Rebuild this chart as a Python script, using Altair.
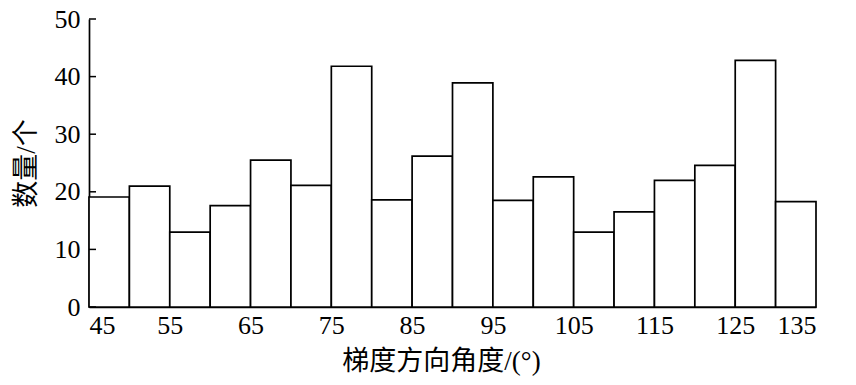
import altair as alt
import pandas as pd

bin_starts = [45, 50, 55, 60, 65, 70, 75, 80, 85, 90, 95, 100, 105, 110, 115, 120, 125, 130]
counts = [19.1, 21.0, 13.0, 17.6, 25.5, 21.1, 41.8, 18.6, 26.2, 38.9, 18.5, 22.6, 13.0, 16.5, 22.0, 24.6, 42.8, 18.3]
bin_width = 5
x_ticks = [45, 55, 65, 75, 85, 95, 105, 115, 125, 135]
y_ticks = [0, 10, 20, 30, 40, 50]

df = pd.DataFrame({
    "start": bin_starts,
    "end": [s + bin_width for s in bin_starts],
    "count": counts,
})
tick_df = pd.DataFrame({"y": y_ticks})

FONT = "Liberation Serif, Times New Roman, Noto Sans CJK SC"

x_scale = alt.Scale(domain=[45, 135], nice=False, zero=False)
y_scale = alt.Scale(domain=[0, 50], nice=False)

bars = alt.Chart(df).mark_rect(
    fill="white", stroke="black", strokeWidth=1.7
).encode(
    x=alt.X("start:Q", scale=x_scale,
            axis=alt.Axis(values=x_ticks, title="梯度方向角度/(°)", tickSize=0,
                          labelPadding=5, titlePadding=10, titleX=352,
                          titleAlign="center", grid=False)),
    x2="end:Q",
    y=alt.Y("count:Q", scale=y_scale,
            axis=alt.Axis(values=y_ticks, title="数量/个", tickSize=0,
                          labelPadding=9, titlePadding=14, grid=False)),
    y2=alt.datum(0),
)

ticks = alt.Chart(tick_df).mark_rule(color="black", strokeWidth=1.5).encode(
    x=alt.value(0),
    x2=alt.value(7),
    y=alt.Y("y:Q", scale=y_scale),
)

chart = alt.layer(bars, ticks).properties(
    width=727,
    height=288,
    autosize=alt.AutoSizeParams(type="none"),
    padding={"left": 89, "top": 19, "right": 40, "bottom": 78},
    background="white",
).configure_view(
    stroke=None
).configure_axis(
    domainColor="black",
    domainWidth=1.7,
    labelFont=FONT,
    labelFontSize=26,
    labelColor="black",
    titleFont=FONT,
    titleFontSize=27,
    titleFontWeight="normal",
    titleColor="black",
)

chart.save("out.html", embed_options={"renderer": "svg", "actions": False})
